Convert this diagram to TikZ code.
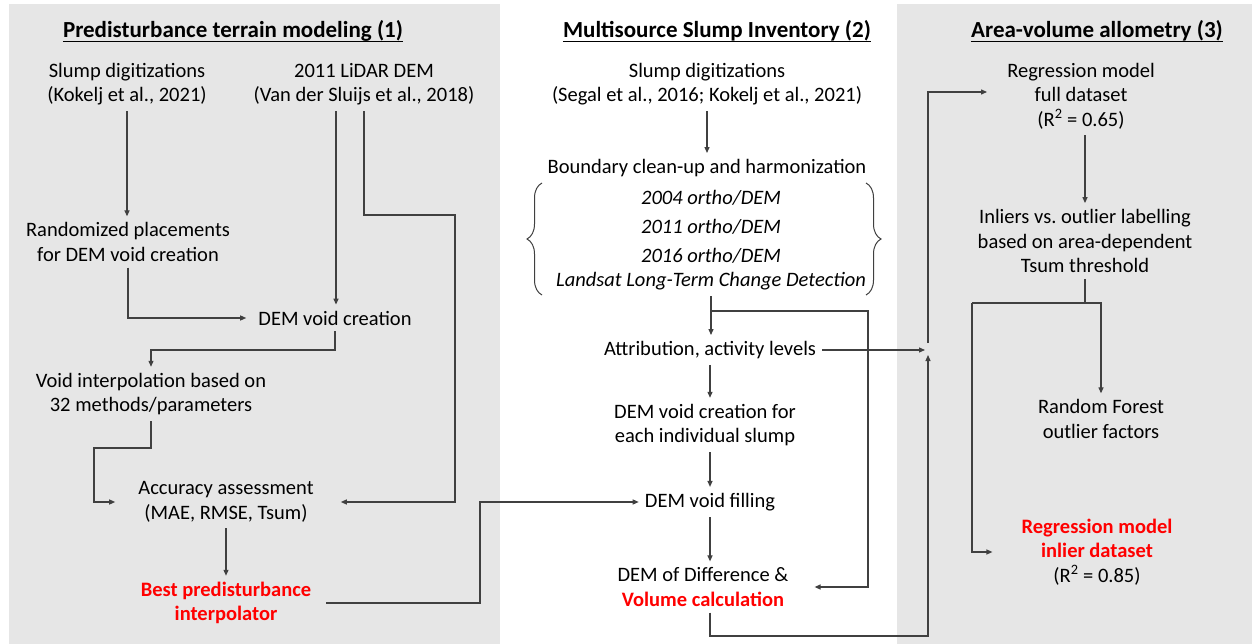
\documentclass[tikz,border=0pt]{standalone}
\usepackage{fontspec}
\setmainfont{Carlito}
\usetikzlibrary{arrows.meta,decorations.pathreplacing,calc}
\definecolor{panel}{HTML}{E6E6E6}
\definecolor{conn}{HTML}{404040}
\definecolor{hl}{HTML}{FF0000}
\begin{document}
\begin{tikzpicture}[x=1pt,y=-1pt,
  every node/.style={font=\fontsize{20.5}{24.5}\selectfont, align=center, inner sep=6pt},
  titletext/.style={font=\fontsize{23}{27}\selectfont\bfseries, inner sep=0pt},
  hltext/.style={text=hl, font=\fontsize{20.5}{24.5}\selectfont\bfseries},
  itx/.style={font=\fontsize{20.5}{24.5}\selectfont\itshape, inner sep=4pt},
  arr/.style={draw=conn, line width=1.2pt, -{Triangle[length=6pt,width=5pt]}},
  ln/.style={draw=conn, line width=1.2pt},
  bracestyle/.style={draw=conn, line width=1pt, decorate, decoration={brace, amplitude=15pt, aspect=0.5}}]
\useasboundingbox (0,0) rectangle (1252,644);
\fill[white] (0,0) rectangle (1252,644);
\fill[panel] (9,4) rectangle (500,644);
\fill[panel] (897,4) rectangle (1252,644);

% titles
\node[titletext] (t1) at (233,31) {Predisturbance terrain modeling (1)};
\node[titletext] (t2) at (717,31) {Multisource Slump Inventory (2)};
\node[titletext] (t3) at (1097,31) {Area-volume allometry (3)};
\foreach \t in {t1,t2,t3}
  \draw[line width=1.3pt] ([yshift=-4pt]\t.base west) -- ([yshift=-4pt]\t.base east);

% left column
\node (l1) at (127,84) {Slump digitizations\\(Kokelj et al., 2021)};
\node (l2) at (364,84) {2011 LiDAR DEM\\(Van der Sluijs et al., 2018)};
\node (l3) at (128,242) {Randomized placements\\for DEM void creation};
\node (l4) at (335,318) {DEM void creation};
\node (l5) at (151,394) {Void interpolation based on\\32 methods/parameters};
\node (l6) at (226,502) {Accuracy assessment\\(MAE, RMSE, Tsum)};
\node[hltext] (l7) at (226,603) {Best predisturbance\\interpolator};

% middle column
\node (m1) at (707,84) {Slump digitizations\\(Segal et al., 2016; Kokelj et al., 2021)};
\node (m2) at (707,168) {Boundary clean-up and harmonization};
\node[itx] (m3a) at (711,198) {2004 ortho/DEM};
\node[itx] (m3b) at (711,227) {2011 ortho/DEM};
\node[itx] (m3c) at (711,256) {2016 ortho/DEM};
\node[itx] (m3d) at (711,281) {Landsat Long-Term Change Detection};
\node (m4) at (710,350) {Attribution, activity levels};
\node (m5) at (705,425) {DEM void creation for\\each individual slump};
\node (m6) at (710,502) {DEM void filling};
\node (m7) at (703,587) {DEM of Difference \&\\{\color{hl}\bfseries Volume calculation}};

% right column
\node (r1) at (1081,96) {Regression model\\full dataset\\(R\textsuperscript{2} = 0.65)};
\node (r2) at (1085,241) {Inliers vs.\ outlier labelling\\based on area-dependent\\Tsum threshold};
\node (r3) at (1101,419) {Random Forest\\outlier factors};
\node (r4) at (1097,552) {{\color{hl}\bfseries Regression model}\\{\color{hl}\bfseries inlier dataset}\\(R\textsuperscript{2} = 0.85)};

% braces
\draw[bracestyle] (542,295) -- (542,183);
\draw[bracestyle] (866,183) -- (866,295);

% helper coordinates
\coordinate (k1) at (455,215);
\coordinate (k2) at (151,350);
\coordinate (k3) at (94,448);
\coordinate (k4) at (480,502);
\coordinate (k5) at (868,311);
\coordinate (k7) at (928,636);
\coordinate (j) at (928,350);
\coordinate (k8) at (1084,303);
\coordinate (k9) at (972,303);

% left connectors
\draw[arr] (l1.south) -- (l1.south |- l3.north);
\draw[arr] ([xshift=-28pt]l2.south) -- ([xshift=-28pt]l2.south |- l4.north);
\draw[arr] (l2.south) |- (k1) |- ([xshift=21pt]l6.east);
\draw[arr] (l3.south) |- ([xshift=-6pt]l4.west);
\draw[arr] (l4.south) |- (k2) -- (l5.north);
\draw[arr] (l5.south) |- (k3) |- ([xshift=-17pt]l6.west);
\draw[arr] (l6.south) -- (l7.north);
\draw[arr] ([xshift=9pt]l7.east) -| (k4) -- (m6.west);

% middle connectors
\draw[arr] (m1.south) -- (m1.south |- m2.north);
\draw[arr] ([yshift=-2pt]m3d.south) -- (m3d.south |- m4.north);
\draw[arr] (m3d.south |- k5) -- (k5) |- ([xshift=20pt]m7.east);
\draw[arr] (m4.south) -- (m4.south |- m5.north);
\draw[arr] (m4.east) -- ([xshift=-3pt]j);
\draw[arr] (m5.south -| m6.north) -- (m6.north);
\draw[arr] (m6.south) -- (m6.south |- m7.north);
\draw[arr] ([xshift=7pt]m7.south) |- (k7) -- ([yshift=-5pt]j);

% right connectors
\draw[arr] ([yshift=7pt]j) |- ([xshift=-14pt,yshift=4pt]r1.west);
\draw[arr] (r2.north |- r1.south) -- (r2.north);
\draw[ln] (r2.south) -- (r2.south |- k8);
\draw[arr] (k9) -| (r3.north);
\draw[arr] (k9) |- ([xshift=-23pt]r4.west);
\end{tikzpicture}
\end{document}
